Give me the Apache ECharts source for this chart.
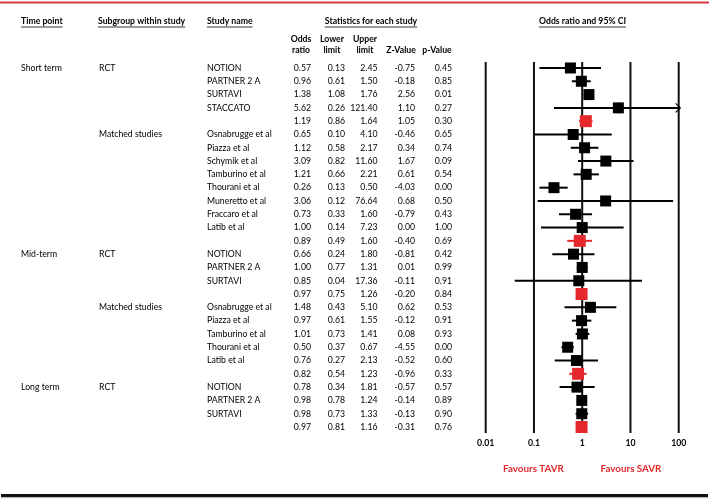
<!DOCTYPE html>
<html>
<head>
<meta charset="utf-8">
<script src="https://cdn.jsdelivr.net/npm/echarts@6/dist/echarts.min.js"></script>
<style>
html,body{margin:0;padding:0;background:#fff;}
#chart{width:709px;height:499px;}
</style>
</head>
<body>
<div id="chart"></div>
<script>
// ---------- DATA ----------
const studies = ['NOTION','PARTNER 2 A','SURTAVI','STACCATO','',
  'Osnabrugge et al','Piazza et al','Schymik et al','Tamburino et al','Thourani et al','Muneretto et al','Fraccaro et al','Latib et al','',
  'NOTION','PARTNER 2 A','SURTAVI','',
  'Osnabrugge et al','Piazza et al','Tamburino et al','Thourani et al','Latib et al','',
  'NOTION','PARTNER 2 A','SURTAVI',''];
const oddsRatio = [0.57,0.96,1.38,5.62,1.19,0.65,1.12,3.09,1.21,0.26,3.06,0.73,1.00,0.89,0.66,1.00,0.85,0.97,1.48,0.97,1.01,0.50,0.76,0.82,0.78,0.98,0.98,0.97];
const lowerLimit = [0.13,0.61,1.08,0.26,0.86,0.10,0.58,0.82,0.66,0.13,0.12,0.33,0.14,0.49,0.24,0.77,0.04,0.75,0.43,0.61,0.73,0.37,0.27,0.54,0.34,0.78,0.73,0.81];
const upperLimit = [2.45,1.50,1.76,121.40,1.64,4.10,2.17,11.60,2.21,0.50,76.64,1.60,7.23,1.60,1.80,1.31,17.36,1.26,5.10,1.55,1.41,0.67,2.13,1.23,1.81,1.24,1.33,1.16];
const zValue = [-0.75,-0.18,2.56,1.10,1.05,-0.46,0.34,1.67,0.61,-4.03,0.68,-0.79,0.00,-0.40,-0.81,0.01,-0.11,-0.20,0.62,-0.12,0.08,-4.55,-0.52,-0.96,-0.57,-0.14,-0.13,-0.31];
const pValue = [0.45,0.85,0.01,0.27,0.30,0.65,0.74,0.09,0.54,0.00,0.50,0.43,1.00,0.69,0.42,0.99,0.91,0.84,0.53,0.91,0.93,0.00,0.60,0.33,0.57,0.89,0.90,0.76];
const pooledRows = [4,13,17,23,27];
const timeLabels = ['Short term','Mid-term','Long term'];
const timeRows = [0,14,24];
const subgroupLabels = ['RCT','Matched studies','RCT','Matched studies','RCT'];
const subgroupRows = [0,5,14,18,24];
const xTicks = [0.01,0.1,1,10,100];
const xTickLabels = ['0.01','0.1','1','10','100'];

// ---------- STYLE ----------
const FONT = 'Lato, "Noto Sans", sans-serif';
const FS = 8.7;
const RED = '#e4282c';
const INK = '#000';
const rows = studies.map((s,i)=>i);

const chart = echarts.init(document.getElementById('chart'), null, {renderer:'canvas'});

const mctx = document.createElement('canvas').getContext('2d');
function textWidth(t, weight, size){ mctx.font = weight+' '+size+'px '+FONT; return mctx.measureText(t).width; }

function textSeries(xPix, rowIdx, texts, align){
  return {
    type:'custom', xAxisIndex:1, yAxisIndex:1, silent:true, clip:false, z:5,
    data: rowIdx.map(r=>[xPix, r]),
    renderItem:(params, api)=>{
      const p = api.coord([api.value(0), api.value(1)]);
      return {type:'text', x:p[0], y:p[1], style:{text:texts[params.dataIndex], align:align, verticalAlign:'middle',
        fontSize:FS, fontFamily:FONT, fill:INK}};
    }
  };
}
const fmt = a => a.map(v=>v.toFixed(2));

const yAxisCommon = {type:'value', min:-0.45, max:27.45, inverse:true, show:false};

// headers
const headerItems = [];
function header(text, x, y, align, underline){
  headerItems.push({type:'text', x:x, y:y, style:{text:text, align:align, verticalAlign:'middle', fontSize:FS, fontWeight:'bold', fontFamily:FONT, fill:INK}});
  if (underline){
    const w = textWidth(text,'bold',FS);
    const x0 = align==='center' ? x-w/2 : x;
    headerItems.push({type:'line', shape:{x1:x0, y1:y+6, x2:x0+w, y2:y+6}, style:{stroke:INK, lineWidth:0.8}});
  }
}
header('Time point', 21, 21, 'left', true);
header('Subgroup within study', 98, 21, 'left', true);
header('Study name', 207, 21, 'left', true);
header('Statistics for each study', 371, 21, 'center', true);
header('Odds ratio and 95% CI', 582.5, 21, 'center', true);
header('Odds', 301, 39.5, 'center'); header('ratio', 301, 50, 'center');
header('Lower', 332, 39.5, 'center'); header('limit', 332, 50, 'center');
header('Upper', 365, 39.5, 'center'); header('limit', 365, 50, 'center');
header('Z-Value', 401, 50, 'center');
header('p-Value', 437, 50, 'center');

const option = {
  backgroundColor:'#fff',
  animation:false,
  grid:[
    {left:485.7, top:62, width:193, height:371},
    {left:0, top:62, width:709, height:371}
  ],
  xAxis:[
    {type:'log', logBase:10, min:0.01, max:100, gridIndex:0,
     axisLine:{show:false}, axisTick:{show:false}, splitLine:{show:false},
     axisLabel:{show:true, margin:6, fontSize:FS, fontWeight:'bold', fontFamily:FONT, color:INK,
       formatter:v=>{const i=xTicks.findIndex(t=>Math.abs(Math.log10(t)-Math.log10(v))<1e-6); return i>=0?xTickLabels[i]:'';}}},
    {type:'value', min:0, max:709, gridIndex:1, show:false}
  ],
  yAxis:[
    Object.assign({gridIndex:0}, yAxisCommon),
    Object.assign({gridIndex:1}, yAxisCommon)
  ],
  graphic:[
    {type:'line', shape:{x1:0,y1:2.5,x2:709,y2:2.5}, style:{stroke:'#d43a40', lineWidth:2.2}},
    {type:'line', shape:{x1:1,y1:497.5,x2:708,y2:497.5}, style:{stroke:'#bbb', lineWidth:1.5}},
    {type:'line', shape:{x1:1,y1:495.5,x2:708,y2:495.5}, style:{stroke:'#111', lineWidth:3}},
    {type:'text', x:533.5, y:469, style:{text:'Favours TAVR', align:'center', verticalAlign:'middle', fontSize:9.8, fontWeight:'bold', fontFamily:FONT, fill:RED}},
    {type:'text', x:631, y:469, style:{text:'Favours SAVR', align:'center', verticalAlign:'middle', fontSize:9.8, fontWeight:'bold', fontFamily:FONT, fill:RED}}
  ].concat(headerItems),
  series:[
    // vertical reference lines
    {type:'custom', xAxisIndex:0, yAxisIndex:0, silent:true, clip:false, z:1,
     data: xTicks.map(v=>[v]),
     renderItem:(params, api)=>{
       const cs = params.coordSys;
       const x = api.coord([api.value(0), 0])[0];
       return {type:'line', shape:{x1:x, y1:cs.y, x2:x, y2:cs.y+cs.height}, style:{stroke:'#111', lineWidth:2}};
     }},
    // confidence intervals
    {type:'custom', xAxisIndex:0, yAxisIndex:0, silent:true, clip:false, z:2,
     data: rows.map(i=>[lowerLimit[i], upperLimit[i], i]),
     renderItem:(params, api)=>{
       const i = api.value(2);
       const pooled = pooledRows.indexOf(i)>=0;
       const col = pooled ? RED : '#000';
       const lo = Math.max(api.value(0), 0.01), hiRaw = api.value(1);
       const hi = Math.min(hiRaw, 100);
       const p0 = api.coord([lo, i]), p1 = api.coord([hi, i]);
       const children = [{type:'line', shape:{x1:p0[0], y1:p0[1], x2:p1[0]+(hiRaw>100?1.5:0), y2:p1[1]}, style:{stroke:col, lineWidth:2}}];
       if (hiRaw>100){
         children.push({type:'polyline', shape:{points:[[p1[0]-3,p1[1]-4.5],[p1[0]+1.5,p1[1]],[p1[0]-3,p1[1]+4.5]]}, style:{stroke:col, lineWidth:1.2, fill:null}});
       }
       return {type:'group', children:children};
     }},
    // point estimates
    {type:'scatter', xAxisIndex:0, yAxisIndex:0, silent:true, z:3, symbol:'rect', symbolSize:11,
     itemStyle:{opacity:1},
     data: rows.map(i=>({value:[oddsRatio[i], i], symbolSize: pooledRows.indexOf(i)>=0?12:11,
        itemStyle:{color: pooledRows.indexOf(i)>=0?RED:'#000', opacity:1}}))},
    // table text
    textSeries(21, timeRows, timeLabels, 'left'),
    textSeries(99, subgroupRows, subgroupLabels, 'left'),
    textSeries(207, rows, studies, 'left'),
    textSeries(311, rows, fmt(oddsRatio), 'right'),
    textSeries(345, rows, fmt(lowerLimit), 'right'),
    textSeries(377.5, rows, fmt(upperLimit), 'right'),
    textSeries(415, rows, fmt(zValue), 'right'),
    textSeries(452, rows, fmt(pValue), 'right')
  ]
};
chart.setOption(option);
</script>
</body>
</html>
